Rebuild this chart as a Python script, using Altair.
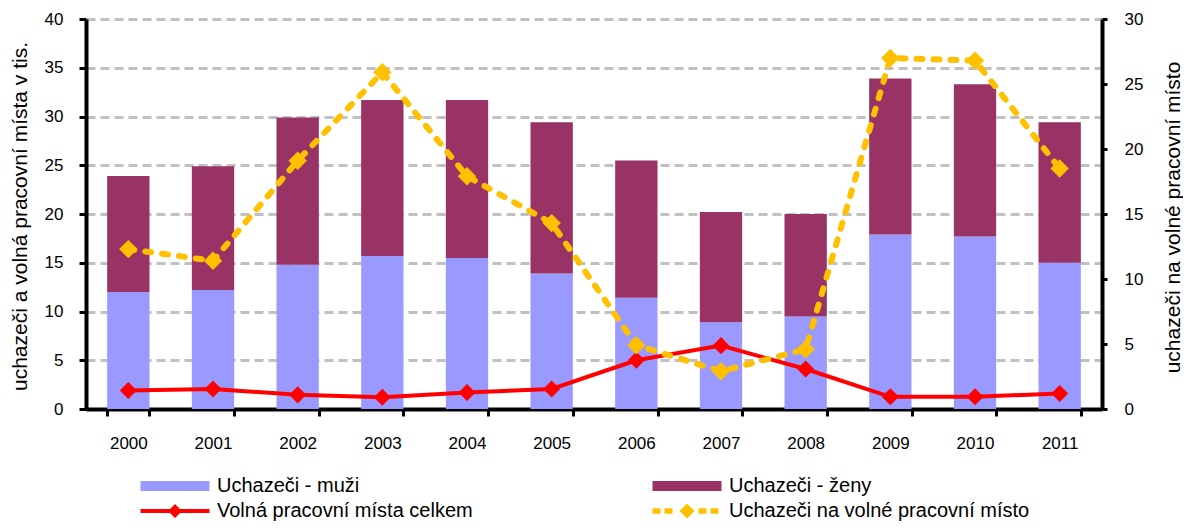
import altair as alt
import pandas as pd

years = ["2000", "2001", "2002", "2003", "2004", "2005",
         "2006", "2007", "2008", "2009", "2010", "2011"]
muzi = [12.0, 12.2, 14.8, 15.7, 15.5, 13.9, 11.4, 8.9, 9.5, 17.9, 17.7, 15.0]
zeny = [11.9, 12.7, 15.1, 16.0, 16.2, 15.5, 14.1, 11.3, 10.5, 16.0, 15.6, 14.4]
volna = [1.9, 2.05, 1.45, 1.2, 1.7, 2.05, 5.0, 6.5, 4.1, 1.25, 1.25, 1.6]
na_misto = [12.3, 11.4, 19.1, 25.9, 17.9, 14.3, 4.9, 2.9, 4.6, 27.0, 26.8, 18.5]

# legend order (filled column by column): muži, volná | ženy, na místo
series_names = ["Uchazeči - muži", "Volná pracovní místa celkem",
                "Uchazeči - ženy", "Uchazeči na volné pracovní místo"]
series_colors = ["#9999FF", "#FF0000", "#993366", "#FFC000"]

left_ticks = [0, 5, 10, 15, 20, 25, 30, 35, 40]
right_ticks = [0, 5, 10, 15, 20, 25, 30]

bars_df = pd.DataFrame({
    "rok": years + years,
    "hodnota": muzi + zeny,
    "serie": [series_names[0]] * len(years) + [series_names[2]] * len(years),
    "poradi": [0] * len(years) + [1] * len(years),
})
volna_df = pd.DataFrame({"rok": years, "hodnota": volna, "serie": series_names[1]})
pomer_df = pd.DataFrame({"rok": years, "pomer": na_misto, "serie": series_names[3]})

FONT = "Liberation Sans"

# legend symbols (custom paths)
p_rect = "M-5.85,-0.5H1.05V0.5H-5.85Z"
p_red = "M-5.85,-0.2H1.05V0.2H-5.85Z M-2.4,-0.7L-1.7,0L-2.4,0.7L-3.1,0Z"
p_yel = ("M-5.85,-0.28H-5.05V0.28H-5.85Z M-4.65,-0.28H-3.85V0.28H-4.65Z "
         "M-2.4,-0.75L-1.65,0L-2.4,0.75L-3.15,0Z "
         "M-1.25,-0.28H-0.45V0.28H-1.25Z M-0.05,-0.28H0.75V0.28H-0.05Z")
sym_expr = ("datum.value === '%s' ? '%s' : (datum.value === '%s' ? '%s' : '%s')"
            % (series_names[1], p_red, series_names[3], p_yel, p_rect))

legend = alt.Legend(
    title=None, orient="none", legendX=103, legendY=457, columns=2,
    columnPadding=179, rowPadding=5, labelFontSize=20, labelFont=FONT,
    labelColor="black", labelLimit=500, labelOffset=8, symbolSize=400,
    symbolStrokeWidth=0, symbolType={"expr": sym_expr},
)
color_enc = alt.Color("serie:N", scale=alt.Scale(domain=series_names, range=series_colors),
                      legend=legend)

x_enc = alt.X("rok:N", sort=years,
              scale=alt.Scale(type="band", paddingInner=0.5, paddingOuter=0.25),
              axis=alt.Axis(title=None, labelAngle=0, tickBand="extent", tickSize=7,
                            tickWidth=3, tickColor="black", domainColor="black",
                            domainWidth=4, labelFontSize=17, labelPadding=19,
                            labelColor="black", grid=False))

left_axis = alt.Axis(values=left_ticks, title="uchazeči a volná pracovní místa v tis.",
                     titleAngle=270, titleX=-66, titleY=197, titleAlign="center",
                     titleBaseline="middle", titleFontSize=21, titleFontWeight="normal",
                     titleColor="black", labelFontSize=17, labelPadding=16, labelColor="black",
                     tickSize=7, tickWidth=3, tickColor="black", domainColor="black",
                     domainWidth=4, grid=True, gridColor="#C0C0C0", gridDash=[9, 5],
                     gridWidth=3)
left_scale = alt.Scale(domain=[0, 40], nice=False)

right_axis = alt.Axis(orient="right", values=right_ticks,
                      title="uchazeči na volné pracovní místo",
                      titleAngle=270, titleX=71, titleY=198, titleAlign="center",
                      titleBaseline="middle", titleFontSize=21, titleFontWeight="normal",
                      titleColor="black", labelFontSize=17, labelPadding=17, labelColor="black",
                      tickSize=5, tickWidth=3, tickColor="black", domainColor="black",
                      domainWidth=4, grid=False)
right_scale = alt.Scale(domain=[0, 30], nice=False)

bars = alt.Chart(bars_df).mark_bar(opacity=1).encode(
    x=x_enc,
    y=alt.Y("hodnota:Q", stack="zero", scale=left_scale, axis=left_axis),
    color=color_enc,
    order=alt.Order("poradi:Q"),
)
red_line = alt.Chart(volna_df).mark_line(color="#FF0000", strokeWidth=4).encode(
    x=x_enc, y=alt.Y("hodnota:Q", scale=left_scale, axis=left_axis),
)
red_pts = alt.Chart(volna_df).mark_point(shape="diamond", filled=True, size=290, opacity=1).encode(
    x=x_enc, y=alt.Y("hodnota:Q", scale=left_scale, axis=left_axis), color=color_enc,
)
yel_line = alt.Chart(pomer_df).mark_line(color="#FFC000", strokeWidth=6, strokeDash=[6, 11],
                                         strokeCap="round").encode(
    x=x_enc, y=alt.Y("pomer:Q", scale=right_scale, axis=right_axis),
)
yel_pts = alt.Chart(pomer_df).mark_point(shape="diamond", filled=True, size=340, opacity=1).encode(
    x=x_enc, y=alt.Y("pomer:Q", scale=right_scale, axis=right_axis), color=color_enc,
)

left = alt.layer(bars, red_line, red_pts)
right = alt.layer(yel_line, yel_pts)

chart = alt.layer(left, right).resolve_scale(y="independent").properties(
    width=1016, height=390,
    autosize=alt.AutoSizeParams(type="none"),
    padding={"left": 78, "top": 11, "right": 81, "bottom": 114},
).configure(font=FONT).configure_view(stroke="transparent")

chart.save("out.html", embed_options={"renderer": "svg", "actions": False})
